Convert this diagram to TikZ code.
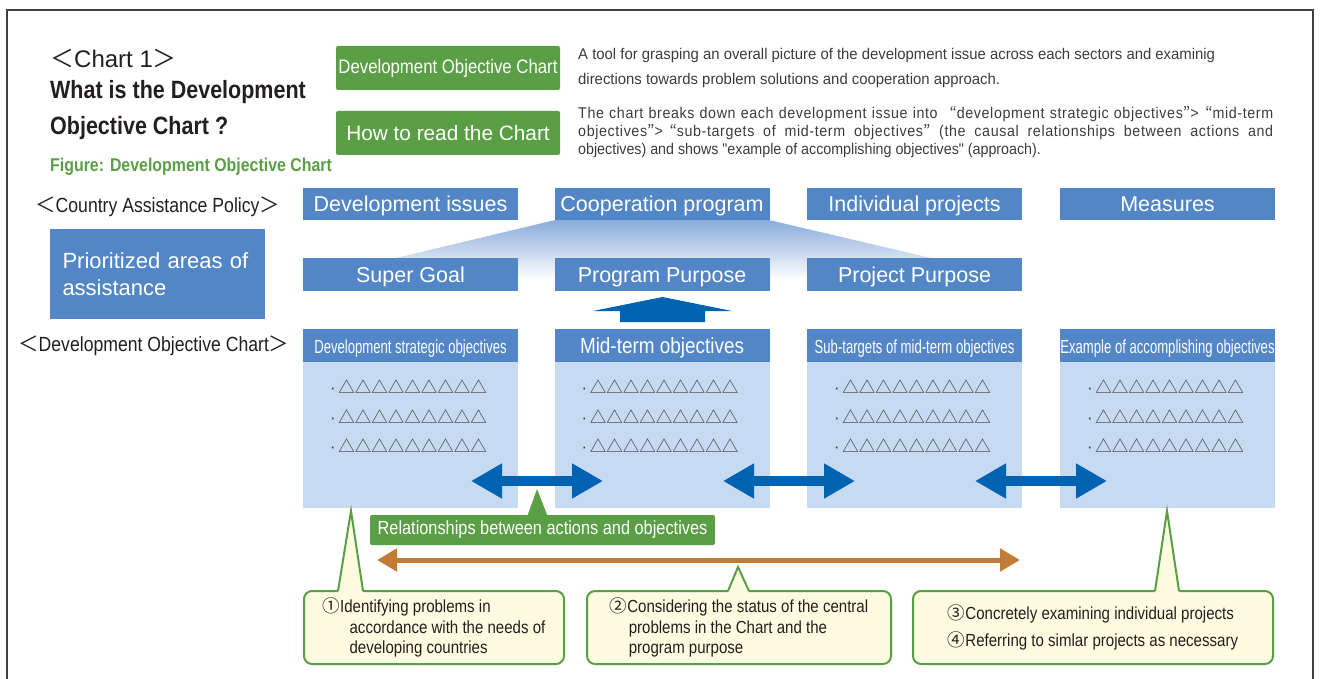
\documentclass[tikz,border=0pt]{standalone}
\usepackage{fontspec}
\setmainfont{Liberation Sans}
\newfontfamily\condfont{Liberation Sans}[FakeStretch=0.86]
\newfontfamily\descfamily{Liberation Sans}[FakeStretch=0.96]
\newfontfamily\desctight{Liberation Sans}[FakeStretch=0.92]
\newfontfamily\descwide{Liberation Sans}[FakeStretch=0.92, LetterSpace=4]
\newfontfamily\narrowfont{Liberation Sans}[FakeStretch=0.69]
\newfontfamily\cjkfont{Noto Sans CJK JP}
\usetikzlibrary{positioning}
\usetikzlibrary{arrows.meta}
\definecolor{boxblue}{RGB}{82,134,198}
\definecolor{bodyblue}{RGB}{198,218,241}
\definecolor{fadeblue}{RGB}{138,172,220}
\definecolor{arrowblue}{RGB}{0,99,177}
\definecolor{boxgreen}{RGB}{90,159,69}
\definecolor{arroworange}{RGB}{193,123,52}
\definecolor{noteyellow}{RGB}{253,251,224}
\definecolor{inkgrey}{RGB}{35,31,32}
\definecolor{descgrey}{RGB}{60,60,60}
\newcommand{\boxfont}{\fontsize{21.5}{24}\selectfont}
\newcommand{\headfont}{\narrowfont\fontsize{19}{22}\selectfont}
\newcommand{\notefont}{\condfont\fontsize{17.5}{20.5}\selectfont}
\newcommand{\descfont}{\desctight\fontsize{15.5}{18}\selectfont}
\newcommand{\fwlt}{{\cjkfont ＜}}
\newcommand{\fwgt}{{\cjkfont ＞}}
\newcommand{\oq}{\makebox[14pt][r]{\cjkfont “}}
\newcommand{\cq}{{\cjkfont ”}}
\newcommand{\trirow}{{\fontsize{16.5}{18}\selectfont ·\,\cjkfont △△△△△△△△△}}

\begin{document}
\begin{tikzpicture}[x=1pt, y=-1pt, text=inkgrey,
    bbox/.style={fill=boxblue, text=white, minimum width=215pt, minimum height=#1, inner sep=0pt, text height=15pt, text depth=0pt, font=\boxfont},
    body/.style={fill=bodyblue, minimum width=215pt, minimum height=146pt, inner sep=0pt},
    gbox/.style={fill=boxgreen, text=white, rounded corners=2pt, minimum width=224pt, minimum height=44pt, inner sep=0pt},
    note/.style={draw=boxgreen, line width=2pt, fill=noteyellow, rounded corners=8pt, minimum height=73pt, minimum width=#1, inner sep=2pt, align=left, font=\notefont},
    dbl/.style={arrowblue, line width=10pt, {Triangle[length=31pt,width=33pt]}-{Triangle[length=31pt,width=33pt]}}]
    \useasboundingbox (0,0) rectangle (1321,679);
    \draw[line width=1.3pt, black!75] (7,679) -- (7,10) -- (1313,10) -- (1313,679);

    % heading
    \node[anchor=west, inner sep=0pt, font=\fontsize{24}{28}\selectfont] (chart) at (50,58) {\fwlt Chart 1\fwgt};
    \node[anchor=west, inner sep=0pt, align=left, font=\condfont\bfseries\fontsize{25}{36}\selectfont] (title) at (50,110) {What is the Development\\Objective Chart ?};
    \node[anchor=west, inner sep=0pt, text=boxgreen, font=\condfont\bfseries\fontsize{18.5}{22}\selectfont] (fig) at (50,167) {Figure: Development Objective Chart};
    \node[gbox, font=\condfont\fontsize{19.5}{22}\selectfont] (doc) at (448,68) {Development Objective Chart};
    \node[gbox, font=\fontsize{20.8}{24}\selectfont] (read) at (448,133) {How to read the Chart};
    \node[anchor=west, inner sep=0pt, align=left, text=descgrey, font=\descfamily\fontsize{15.5}{25}\selectfont] (desc1) at (578,67.5)
        {A tool for grasping an overall picture of the development issue across each sectors and examinig\\directions towards problem solutions and cooperation approach.};
    \node[anchor=west, inner sep=0pt, align=left, text=descgrey, font=\descfont] (desc2) at (578,132)
        {\makebox[695pt][s]{\descwide The chart breaks down each development issue into \oq development strategic objectives\cq>\oq mid-term}\\
         \makebox[695pt][s]{\descwide objectives\cq>\oq sub-targets of mid-term objectives\cq\ (the causal relationships between actions and}\\
         objectives) and shows "example of accomplishing objectives" (approach).};

    % policy rows
    \node[anchor=west, inner sep=0pt, font=\condfont\fontsize{20.5}{22}\selectfont] (policy) at (35,207) {\fwlt Country Assistance Policy\fwgt};
    \node[bbox=32pt] (issues) at (410.5,204) {Development issues};
    \node[bbox=32pt] (coop) at (662,204) {Cooperation program};
    \node[bbox=32pt] (indiv) at (914.5,204) {Individual projects};
    \node[bbox=32pt] (meas) at (1167.5,204) {Measures};
    \shade[top color=fadeblue, bottom color=white] (coop.south west) -- (coop.south east) -- (1025,280) -- (304,280) -- cycle;
    \node[fill=boxblue, text=white, minimum width=215pt, minimum height=90pt, inner sep=0pt, align=left, text width=190pt, font=\fontsize{22}{27}\selectfont] (prior) at (157.5,274) {Prioritized areas of\\assistance};
    \node[bbox=33pt] (goal) at (410.5,274.5) {Super Goal};
    \node[bbox=33pt] (prog) at (662,274.5) {Program Purpose};
    \node[bbox=33pt] (proj) at (914.5,274.5) {Project Purpose};

    % chart columns
    \node[anchor=west, inner sep=0pt, font=\condfont\fontsize{20.5}{22}\selectfont] (dochart) at (18,346) {\fwlt Development Objective Chart\fwgt};
    \node[bbox=33pt, font=\headfont] (h1) at (410.5,345.5) {Development strategic objectives};
    \node[bbox=33pt, font=\condfont\fontsize{22}{24}\selectfont] (h2) at (662,345.5) {Mid-term objectives};
    \node[bbox=33pt, font=\headfont] (h3) at (914.5,345.5) {Sub-targets of mid-term objectives};
    \node[bbox=33pt, font=\headfont] (h4) at (1167.5,345.5) {Example of accomplishing objectives};
    \foreach \i in {1,...,4} {
        \node[body, below=0pt of h\i] (b\i) {};
        \node[align=left, inner sep=0pt, text=descgrey, font=\fontsize{16.5}{29.5}\selectfont] (t\i) at ([xshift=-2pt,yshift=19pt]b\i.center) {\trirow\\\trirow\\\trirow};
    }
    \fill[arrowblue] (620,322) -- (620,311) -- (593,311) -- (662.5,297) -- (732,311) -- (705,311) -- (705,322) -- cycle;
    \foreach \x [count=\i] in {471,723,975} {
        \coordinate (l\i) at (\x,481);
        \coordinate (r\i) at (\x+132,481);
        \draw[dbl] (l\i) -- (r\i);
    }

    % relationships
    \node[gbox, minimum width=345pt, minimum height=30pt, font=\condfont\fontsize{19}{21}\selectfont] (rel) at (542.5,530) {Relationships between actions and objectives};
    \coordinate (reltip) at (537,489);
    \fill[boxgreen] (527,517) -- (reltip) -- (548,517) -- cycle;
    \coordinate (ol) at (377,560);
    \coordinate (or) at (1020,560);
    \draw[arroworange, line width=5pt, {Triangle[length=20pt,width=22pt]}-{Triangle[length=20pt,width=22pt]}] (ol) -- (or);

    % notes
    \node[note=260pt] (n1) at (434,627.5) {{\cjkfont ①}Identifying problems in\\\hspace*{27pt}accordance with the needs of\\\hspace*{27pt}developing countries};
    \node[note=304pt] (n2) at (739,627.5) {{\cjkfont ②}Considering the status of the central\\\hspace*{19pt}problems in the Chart and the\\\hspace*{19pt}program purpose};
    \node[note=360pt, font=\condfont\fontsize{17.5}{27}\selectfont] (n3) at (1093,627.5) {{\cjkfont ③}Concretely examining individual projects\\{\cjkfont ④}Referring to simlar projects as necessary};
    \coordinate (tip1) at (351,511);
    \coordinate (tip2) at (738,567);
    \coordinate (tip3) at (1167,511);
    \foreach \a/\t/\b in {338/tip1/363, 728/tip2/749, 1155/tip3/1179} {
        \fill[noteyellow] (\a,593) -- (\t) -- (\b,593) -- cycle;
        \draw[boxgreen, line width=2pt] (\a,591) -- (\t) -- (\b,591);
    }
\end{tikzpicture}
\end{document}
